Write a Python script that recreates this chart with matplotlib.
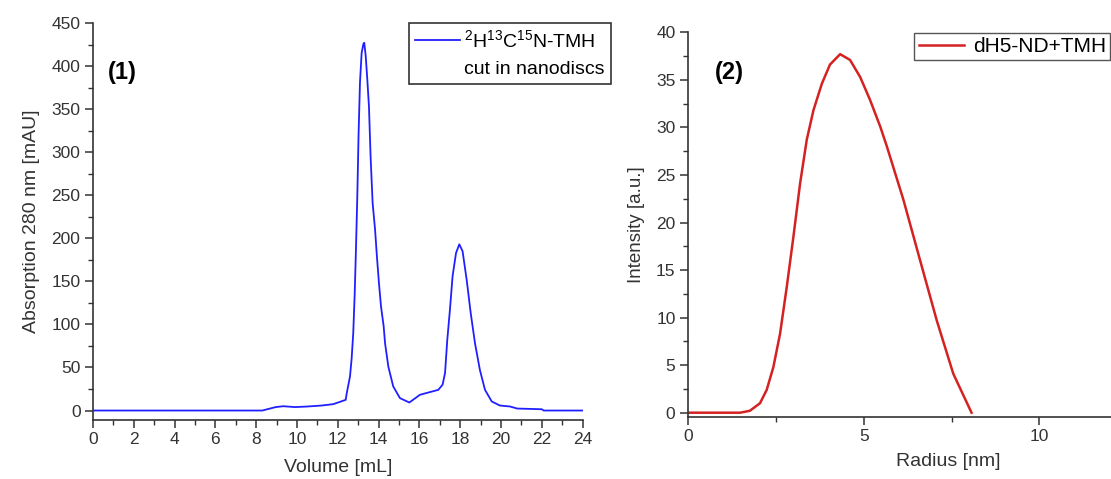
import matplotlib
matplotlib.use("Agg")
import matplotlib.pyplot as plt
from matplotlib.lines import Line2D
from matplotlib.ticker import MultipleLocator

plt.rcParams["font.family"] = ["Liberation Sans", "DejaVu Sans"]
plt.rcParams["mathtext.default"] = "regular"

# (1) size-exclusion chromatogram
sec_volume = [0, 2, 4, 6, 8, 8.3, 8.96, 9.33, 9.9, 10.46, 11.21, 11.78,
              12.39, 12.44, 12.6, 12.68, 12.76, 12.83, 12.89, 12.96, 13.02,
              13.09, 13.17, 13.26, 13.3, 13.37, 13.45, 13.53, 13.61, 13.71,
              13.83, 13.92, 14.02, 14.12, 14.25, 14.32, 14.48, 14.72, 15.05,
              15.51, 16.03, 16.52, 16.93, 17.14, 17.26, 17.37, 17.5, 17.63,
              17.8, 17.96, 18.12, 18.32, 18.52, 18.73, 18.97, 19.22, 19.55,
              19.95, 20.44, 20.8, 22.0, 22.1, 24]
sec_abs = [0, 0, 0, 0, 0, 0, 4, 5, 4, 4.6, 5.8, 7.4,
           12.4, 20, 39.5, 60, 90, 135, 185, 250, 320,
           381, 415, 426, 427, 412, 384, 353, 295, 241,
           210, 179, 148, 121, 98, 78, 51, 28, 14.4,
           9.3, 18.3, 21.4, 24, 30, 43.5, 82, 117, 156,
           183, 193, 185, 152, 113, 78, 47, 24, 10.5,
           5.8, 4.7, 2.3, 1.5, 0, 0]
sec_label = ["$^{2}$H$^{13}$C$^{15}$N-TMH", "cut in nanodiscs"]

# (2) DLS size distribution
dls_radius = [0, 1.0, 1.48, 1.76, 2.05, 2.24, 2.43, 2.62, 2.81, 3.0, 3.19,
              3.38, 3.57, 3.81, 4.04, 4.33, 4.61, 4.9, 5.18, 5.47, 5.66,
              6.13, 6.6, 7.08, 7.55, 8.07]
dls_intensity = [0, 0, 0, 0.2, 1.0, 2.4, 4.8, 8.3, 13.2, 18.5, 24.1,
                 28.7, 31.8, 34.6, 36.6, 37.7, 37.1, 35.3, 32.9, 30.1, 28.0,
                 22.4, 16.1, 9.7, 4.1, 0]
dls_label = "dH5-ND+TMH"

W, H = 1111, 479
fig = plt.figure(figsize=(W / 100, H / 100), dpi=100)


def style_axes(ax, labelsize):
    for side in ("top", "right"):
        ax.spines[side].set_visible(False)
    for side in ("left", "bottom"):
        ax.spines[side].set_color("#333333")
        ax.spines[side].set_linewidth(1.2)
    ax.tick_params(which="major", direction="out", length=6, width=1.1,
                   color="#333333", labelsize=labelsize, pad=3,
                   labelcolor="#333333")
    ax.tick_params(which="minor", direction="out", length=3.5, width=1.0,
                   color="#333333")


# ---- panel (1)
ax1 = fig.add_axes([93 / W, 1 - 420 / H, (582.5 - 93) / W, (420 - 23) / H])
ax1.plot(sec_volume, sec_abs, color="#2020ff", linewidth=1.3)
ax1.set_xlim(0, 24)
ax1.set_ylim(-11, 450)
ax1.xaxis.set_major_locator(MultipleLocator(2))
ax1.xaxis.set_minor_locator(MultipleLocator(1))
ax1.yaxis.set_major_locator(MultipleLocator(50))
ax1.yaxis.set_minor_locator(MultipleLocator(25))
style_axes(ax1, 12.5)
ax1.set_xlabel("Volume [mL]", fontsize=14, color="#333333", labelpad=8)
ax1.set_ylabel("Absorption 280 nm [mAU]", fontsize=14, color="#333333",
               labelpad=8)
ax1.text(108 / W, 1 - 72 / H, "(1)", transform=fig.transFigure,
         fontsize=17, fontweight="bold", va="center", ha="left")

# two legend rows so the line sits next to the first text row only
handles1 = [Line2D([], [], color="#2020ff", linewidth=1.3),
            Line2D([], [], color="none")]
leg1 = ax1.legend(handles1, sec_label, loc="upper left",
                  bbox_to_anchor=(409 / W, 1 - 23 / H),
                  bbox_transform=fig.transFigure, borderaxespad=0,
                  fancybox=False, edgecolor="#333333", fontsize=14,
                  handlelength=2.3, handletextpad=0.25, borderpad=0.3,
                  labelspacing=0.5, framealpha=1)
leg1.get_frame().set_linewidth(1.2)

# ---- panel (2); the original axis runs past the right edge of the picture
ax2 = fig.add_axes([688 / W, 1 - 416.7 / H, (1208 - 688) / W,
                    (416.7 - 32.3) / H])
ax2.plot(dls_radius, dls_intensity, color="#d42222", linewidth=1.8,
         label=dls_label)
ax2.set_xlim(0, 14.8)
ax2.set_ylim(-0.42, 40)
ax2.xaxis.set_major_locator(MultipleLocator(5))
ax2.xaxis.set_minor_locator(MultipleLocator(2.5))
ax2.yaxis.set_major_locator(MultipleLocator(5))
ax2.yaxis.set_minor_locator(MultipleLocator(2.5))
style_axes(ax2, 12.5)
ax2.set_xlabel("Radius [nm]", fontsize=14, color="#333333", labelpad=6)
ax2.set_ylabel("Intensity [a.u.]", fontsize=13.5, color="#333333", labelpad=8)
ax2.text(715 / W, 1 - 72 / H, "(2)", transform=fig.transFigure,
         fontsize=17, fontweight="bold", va="center", ha="left")
leg2 = ax2.legend(loc="upper right", bbox_to_anchor=(1110 / W, 1 - 33 / H),
                  bbox_transform=fig.transFigure, borderaxespad=0,
                  fancybox=False, edgecolor="#555555", fontsize=15,
                  handlelength=2.2, handletextpad=0.4, borderpad=0.2,
                  framealpha=1)
leg2.get_frame().set_linewidth(1.0)

fig.savefig("out.png", dpi=100)
